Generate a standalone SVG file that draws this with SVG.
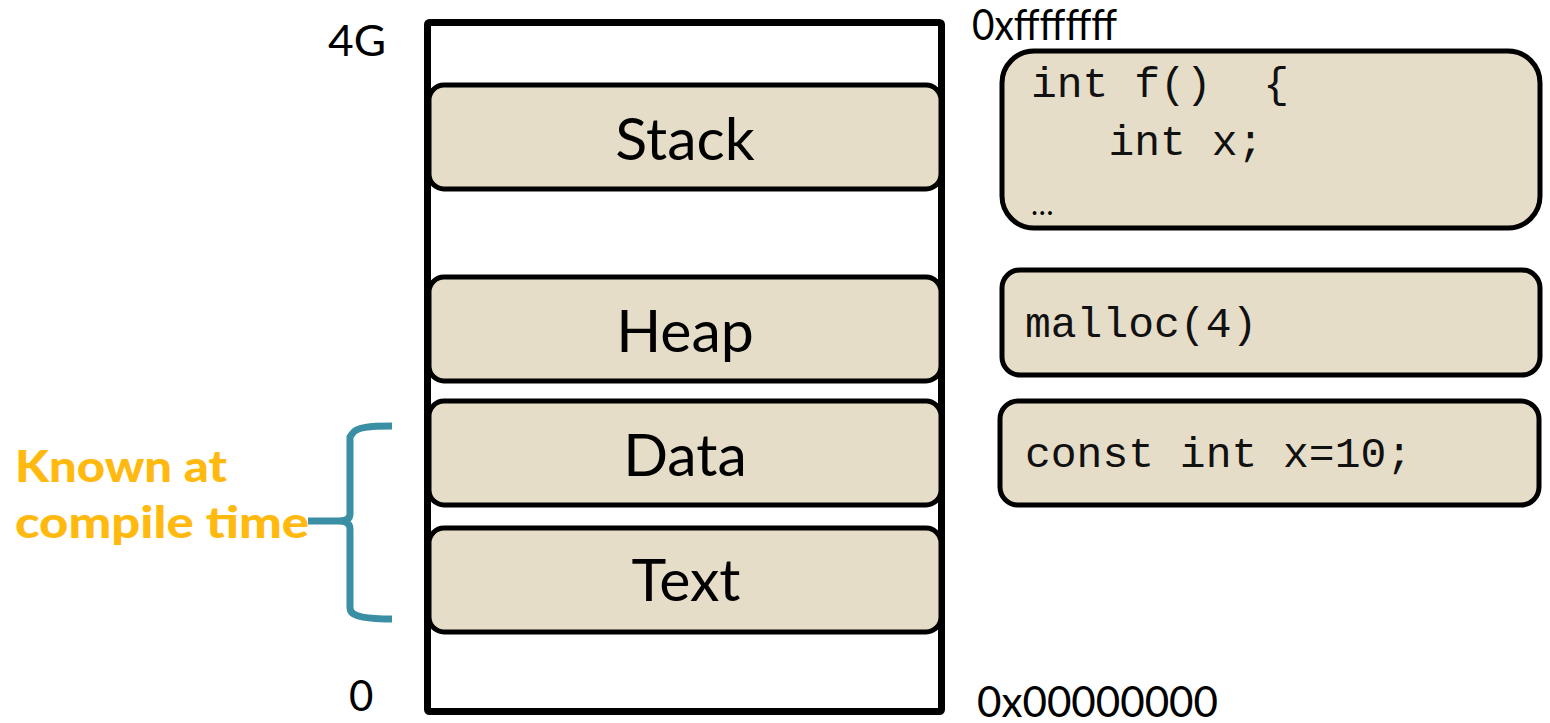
<svg xmlns="http://www.w3.org/2000/svg" width="1550" height="723" viewBox="0 0 1550 723">
<style>
.seg{fill:#E6DDC8;stroke:#000;stroke-width:5}
.lbl{font-family:Lato,"Open Sans","Liberation Sans",sans-serif;font-size:59px;fill:#000;text-anchor:middle}
.addr{font-family:Lato,"Open Sans","Liberation Sans",sans-serif;font-size:42px;fill:#000}
.code{font-family:"Liberation Mono","Courier New",monospace;font-size:43px;fill:#111}
.note{font-family:Lato,"Open Sans","Liberation Sans",sans-serif;font-weight:900;font-size:44px;fill:#FFB90F}
</style>
<rect width="1550" height="723" fill="#fff"/>
<g id="memory">
  <rect x="427.5" y="22.5" width="514" height="689" fill="#fff" stroke="#000" stroke-width="7" rx="2"/>
</g>
<g id="stack">
  <rect class="seg" x="429" y="85" width="512" height="104" rx="15"/>
  <text class="lbl" x="685" y="160">Stack</text>
</g>
<g id="heap">
  <rect class="seg" x="429" y="277" width="512" height="104" rx="15"/>
  <text class="lbl" x="685" y="352">Heap</text>
</g>
<g id="data">
  <rect class="seg" x="429" y="401" width="512" height="104" rx="15"/>
  <text class="lbl" x="685" y="476">Data</text>
</g>
<g id="text">
  <rect class="seg" x="429" y="528" width="512" height="104" rx="15"/>
  <text class="lbl" x="686" y="601">Text</text>
</g>
<g id="labels">
  <text class="addr" x="328" y="56" textLength="58" lengthAdjust="spacingAndGlyphs">4G</text>
  <text class="addr" x="349" y="711">0</text>
  <text class="addr" x="972" y="40" textLength="145" lengthAdjust="spacingAndGlyphs">0xffffffff</text>
  <text class="addr" x="977" y="717" textLength="241" lengthAdjust="spacingAndGlyphs">0x00000000</text>
</g>
<g id="code-stack">
  <rect class="seg" x="1002" y="51" width="538" height="177" rx="32"/>
  <text class="code" x="1031" y="97" xml:space="preserve">int f()  {</text>
  <text class="code" x="1031" y="155" xml:space="preserve">   int x;</text>
  <text x="1031" y="215" font-family="Lato,'Liberation Sans',sans-serif" font-size="30">…</text>
</g>
<g id="code-heap">
  <rect class="seg" x="1002" y="270" width="538" height="105" rx="18"/>
  <text class="code" x="1025" y="337">malloc(4)</text>
</g>
<g id="code-data">
  <rect class="seg" x="1000" y="401" width="539" height="104" rx="18"/>
  <text class="code" x="1025" y="467">const int x=10;</text>
</g>
<g id="annotation">
  <path d="M392,426 C370,426 356,427 352,434 L350,437 L350,514 C350,518 347,521 338,521 L308,521 M338,521 C347,521 350,524 350,529 L350,608 C350,614 356,619 392,619" fill="none" stroke="#3A8FA5" stroke-width="7"/>
  <text class="note" x="15" y="482" textLength="212" lengthAdjust="spacingAndGlyphs">Known at</text>
  <text class="note" x="15" y="538" textLength="294" lengthAdjust="spacingAndGlyphs">compile time</text>
</g>
</svg>
